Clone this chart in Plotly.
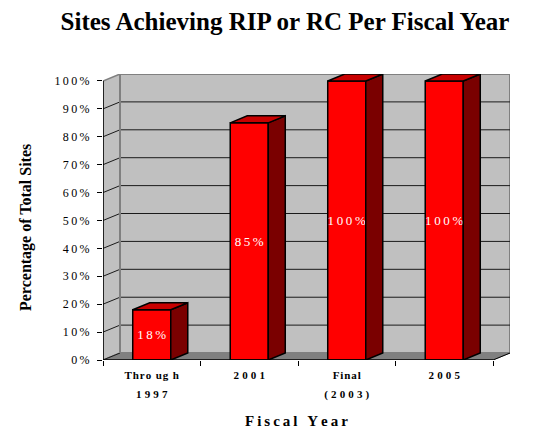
import plotly.graph_objects as go

# ---- data ----
categories = ["Through 1997", "2001", "Final (2003)", "2005"]
tick_line1 = ["Thro ug h", "2001", "Final", "2005"]
tick_line2 = ["1997", "", "(2003)", ""]
values = [18, 85, 100, 100]
y_tick_values = [0, 10, 20, 30, 40, 50, 60, 70, 80, 90, 100]

# ---- styling constants ----
SERIF = "Liberation Serif, Times New Roman, serif"
TS = "\u2009"          # thin space
HS = "\u200a"          # hair space
D = 0.1744     # 3-D depth in x units
DY = 2.5       # 3-D depth in y units
BW = 0.39      # bar width


def spaced(s):
    """letter-space text: wide gaps around digits/brackets, narrow gaps in words"""
    out = ""
    for i, ch in enumerate(s):
        out += ch
        if i < len(s) - 1:
            nxt = s[i + 1]
            if ch.isalpha() and nxt.isalpha() or ch == " " or nxt == " ":
                out += HS
            else:
                out += TS + HS
    return out


x_pos = list(range(len(categories)))
ticktext1 = [spaced(s) for s in tick_line1]
ticktext2 = [spaced(s) for s in tick_line2]
y_ticktext = [TS.join(f"{v}%") for v in y_tick_values]
bar_text = [TS.join(f"{v}%") for v in values]

fig = go.Figure()

# front faces
fig.add_trace(go.Bar(
    x=x_pos, y=values, width=BW,
    marker=dict(color="#FF0000", line=dict(color="black", width=1.5)),
    text=bar_text, textposition="inside", insidetextanchor="middle",
    constraintext="none", textangle=0,
    textfont=dict(family=SERIF, size=13, color="white"),
    hoverinfo="skip", showlegend=False,
))

# top faces and side faces built from data
top_x, top_y, side_x, side_y = [], [], [], []
for xi, v in zip(x_pos, values):
    l, r = xi - BW / 2, xi + BW / 2
    top_x += [l, r, r + D, l + D, l, None]
    top_y += [v, v, v + DY, v + DY, v, None]
    side_x += [r, r + D, r + D, r, r, None]
    side_y += [0, DY, v + DY, v, 0, None]

fig.add_trace(go.Scatter(x=side_x, y=side_y, mode="lines", fill="toself",
                         fillcolor="#7A0000", line=dict(color="black", width=1.5),
                         hoverinfo="skip", showlegend=False))
fig.add_trace(go.Scatter(x=top_x, y=top_y, mode="lines", fill="toself",
                         fillcolor="#C80000", line=dict(color="black", width=1.5),
                         hoverinfo="skip", showlegend=False))
# invisible trace on second x axis carrying the second line of category labels
fig.add_trace(go.Scatter(x=x_pos, y=values, xaxis="x2", mode="markers",
                         marker=dict(opacity=0), hoverinfo="skip", showlegend=False))

x0, x1 = -0.5, len(categories) - 0.5
ytop = max(y_tick_values)
shapes = []
# back wall
shapes.append(dict(type="rect", xref="x", yref="y", x0=x0 + D, x1=x1 + D, y0=DY, y1=ytop + DY,
                   fillcolor="#C0C0C0", line=dict(color="#808080", width=2), layer="below"))
# left side wall
shapes.append(dict(type="path", xref="x", yref="y",
                   path=f"M {x0},0 L {x0 + D},{DY} L {x0 + D},{ytop + DY} L {x0},{ytop} Z",
                   fillcolor="#C0C0C0", line=dict(color="#808080", width=1.5), layer="below"))
# floor
shapes.append(dict(type="path", xref="x", yref="y",
                   path=f"M {x0},0 L {x1},0 L {x1 + D},{DY} L {x0 + D},{DY} Z",
                   fillcolor="#808080", line=dict(color="#808080", width=1), layer="below"))
# gridlines
for v in y_tick_values[1:-1]:
    shapes.append(dict(type="line", xref="x", yref="y", x0=x0 + D, x1=x1 + D, y0=v + DY, y1=v + DY,
                       line=dict(color="#1a1a1a", width=1), layer="below"))
for v in y_tick_values[:-1]:
    shapes.append(dict(type="line", xref="x", yref="y", x0=x0, x1=x0 + D, y0=v, y1=v + DY,
                       line=dict(color="#1a1a1a", width=1), layer="below"))
shapes.append(dict(type="line", xref="x", yref="y", x0=x0 + D, x1=x0 + D, y0=DY, y1=ytop + DY,
                   line=dict(color="#808080", width=2), layer="below"))
# axis lines
shapes.append(dict(type="line", xref="x", yref="y", x0=x0, x1=x0, y0=0, y1=ytop,
                   line=dict(color="black", width=1.5)))
shapes.append(dict(type="line", xref="x", yref="y", x0=x0, x1=x1, y0=0, y1=0,
                   line=dict(color="black", width=1.5)))
shapes.append(dict(type="line", xref="x", yref="y", x0=x1, x1=x1 + D, y0=0, y1=DY,
                   line=dict(color="black", width=1)))

catfont = dict(family=SERIF, size=11, color="black", weight="bold")

fig.update_layout(
    width=550, height=430,
    margin=dict(l=103, r=40, t=74, b=70),
    paper_bgcolor="white", plot_bgcolor="white",
    shapes=shapes,
    showlegend=False,
    title=dict(text="Sites Achieving RIP or RC Per Fiscal Year", x=285 / 550, xanchor="center",
               y=1 - 21 / 430, yanchor="middle", yref="container",
               font=dict(family=SERIF, size=25, color="black", weight="bold")),
    xaxis=dict(range=[x0, x1 + D], tickvals=x_pos, ticktext=ticktext1, ticks="",
               showgrid=False, zeroline=False, showline=False, automargin=False,
               ticklabelstandoff=7, tickfont=catfont,
               minor=dict(tickvals=[x0 + i for i in range(len(categories) + 1)],
                          ticks="outside", ticklen=5, tickcolor="black", tickwidth=1,
                          showgrid=False)),
    xaxis2=dict(overlaying="x", matches="x", anchor="y", side="bottom",
                tickvals=x_pos, ticktext=ticktext2, ticks="",
                showgrid=False, zeroline=False, showline=False, automargin=False,
                ticklabelstandoff=26, tickfont=catfont),
    yaxis=dict(range=[0, ytop + DY], tickvals=y_tick_values, ticktext=y_ticktext,
               ticks="outside", ticklen=5, tickcolor="black", tickwidth=1,
               ticklabelstandoff=5,
               showgrid=False, zeroline=False, showline=False, automargin=False,
               tickfont=dict(family=SERIF, size=12, color="black")),
    annotations=[
        dict(text="Percentage of Total Sites", xref="paper", yref="paper",
             x=(26 - 103) / 407, y=(360 - 228) / 286, textangle=-90, showarrow=False,
             xanchor="center", yanchor="middle",
             font=dict(family=SERIF, size=16, color="black", weight="bold")),
        dict(text=TS.join("Fiscal Year"), xref="paper", yref="paper",
             x=(296 - 103) / 407, y=(360 - 421) / 286, showarrow=False,
             xanchor="center", yanchor="middle",
             font=dict(family=SERIF, size=15, color="black", weight="bold")),
    ],
)

fig.write_html("out.html", config={"displayModeBar": False},
               post_script="document.body.style.margin='0px';")
